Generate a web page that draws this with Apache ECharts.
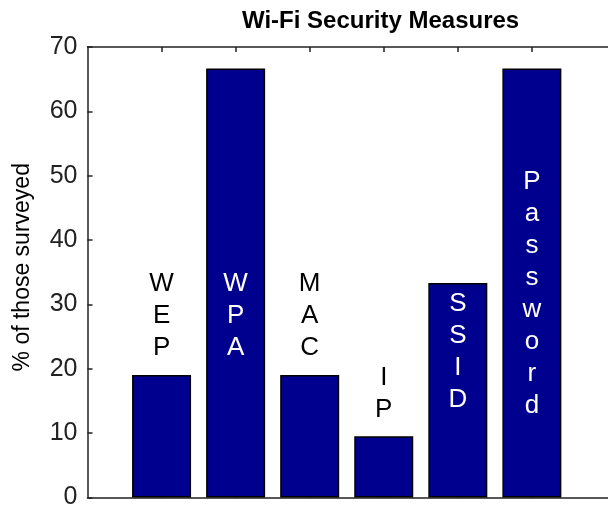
<!DOCTYPE html>
<html>
<head>
<meta charset="utf-8">
<script src="https://cdn.jsdelivr.net/npm/echarts@6/dist/echarts.min.js"></script>
<style>
html,body{margin:0;padding:0;background:#fff;}
#chart{width:608px;height:511px;}
</style>
</head>
<body>
<div id="chart"></div>
<script>
// ---- data ----
var categories = ['WEP', 'WPA', 'MAC', 'IP', 'SSID', 'Password'];
var values = [19.05, 66.67, 19.05, 9.52, 33.33, 66.67];
// data-space y of the bottom of each vertical annotation
var labelY = [20.75, 20.75, 20.75, 11.2, 12.75, 11.7];
var yTicks = [0, 10, 20, 30, 40, 50, 60, 70];
var titleText = 'Wi-Fi Security Measures';
var yName = '% of those surveyed';

var FONT = '"Liberation Sans", Arial, Helvetica, sans-serif';
var positions = categories.map(function (c, i) { return i + 1; });

var barData = values.map(function (v, i) { return [positions[i], v]; });
var labelData = labelY.map(function (y, i) {
  return {
    value: [positions[i], y],
    label: {
      formatter: categories[i].split('').join('\n'),
      color: y < values[i] ? '#ffffff' : '#000000'
    }
  };
});

var chart = echarts.init(document.getElementById('chart'), null, {renderer: 'canvas'});
chart.setOption({
  animation: false,
  backgroundColor: '#ffffff',
  title: {
    text: titleText,
    left: 237,
    top: 4,
    textStyle: {fontFamily: FONT, fontWeight: 'bold', fontSize: 24, color: '#000'}
  },
  grid: {
    left: 87.5,
    top: 47,
    width: 592.5,
    height: 450.5,
    containLabel: false,
    outerBoundsMode: 'none'
  },
  xAxis: [{
    type: 'value',
    position: 'bottom',
    min: 0, max: 8, interval: 1,
    axisLine: {show: true, onZero: false, lineStyle: {color: '#222', width: 1.5}},
    axisTick: {show: true, inside: true, length: 5, customValues: positions, lineStyle: {color: '#222', width: 1.5}},
    axisLabel: {show: false},
    splitLine: {show: false}
  }, {
    type: 'value',
    position: 'top',
    min: 0, max: 8, interval: 1,
    axisLine: {show: true, onZero: false, lineStyle: {color: '#222', width: 1.5}},
    axisTick: {show: true, inside: true, length: 5, customValues: positions, lineStyle: {color: '#222', width: 1.5}},
    axisLabel: {show: false},
    splitLine: {show: false}
  }],
  yAxis: {
    type: 'value',
    min: 0, max: 70, interval: 10,
    name: yName,
    nameLocation: 'middle',
    nameGap: 53,
    nameRotate: 90,
    nameTextStyle: {fontFamily: FONT, fontSize: 23, color: '#000', padding: [0, 0, 0, 10]},
    axisLine: {show: true, onZero: false, lineStyle: {color: '#222', width: 1.5}},
    axisTick: {show: true, inside: true, length: 5, lineStyle: {color: '#222', width: 1.5}},
    axisLabel: {
      show: true, margin: 10, fontFamily: FONT, fontSize: 25, color: '#222',
      formatter: function (v) { return yTicks.indexOf(v) >= 0 ? String(v) : ''; }
    },
    splitLine: {show: false}
  },
  series: [{
    type: 'bar',
    data: barData,
    barWidth: 59,
    itemStyle: {color: '#00008F', borderColor: '#000', borderWidth: 1.5},
    silent: true,
    z: 2
  }, {
    type: 'scatter',
    data: labelData,
    symbolSize: 0,
    silent: true,
    z: 5,
    itemStyle: {opacity: 1},
    label: {
      show: true,
      position: 'top',
      distance: 0,
      align: 'center',
      opacity: 1,
      fontFamily: FONT,
      fontSize: 26,
      lineHeight: 32
    }
  }]
});
</script>
</body>
</html>
